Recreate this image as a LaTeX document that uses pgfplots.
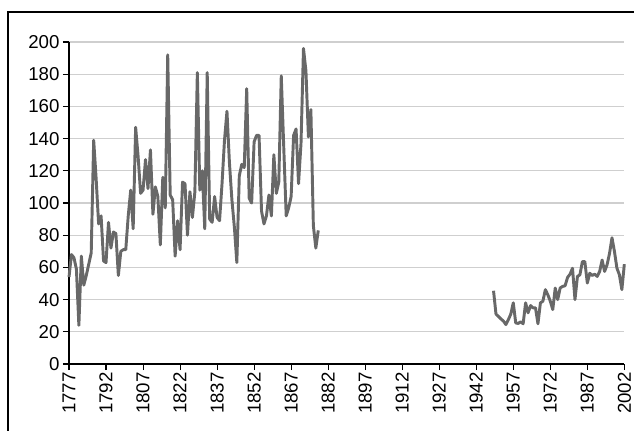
\documentclass[border=0pt]{standalone}
\usepackage{fontspec}
\setmainfont{Liberation Sans}
\usepackage{pgfplots}
\pgfplotsset{compat=1.18}
\definecolor{serie}{HTML}{686868}
\definecolor{gridc}{HTML}{CFCFCF}
\begin{document}
\begin{tikzpicture}
\useasboundingbox (-51.75pt,-49.5pt) rectangle (423.75pt,273pt);
\draw[line width=1.1pt] (-45.75pt,-60pt) -- (-45.75pt,264pt) -- (440pt,264pt);
\begin{axis}[
  at={(0pt,0pt)}, anchor=south west,
  scale only axis, width=416.5pt, height=241.5pt,
  xmin=1777, xmax=2002, ymin=0, ymax=200,
  axis lines=left, axis line style={-, line width=0.9pt, black},
  xtick={1777,1792,...,2002},
  ytick={0,20,...,200},
  ymajorgrids, grid style={gridc, line width=0.8pt},
  tick align=outside, major tick length=4.5pt,
  tick style={black, line width=0.8pt},
  /pgf/number format/assume math mode=true,
  /pgf/number format/set thousands separator={},
  tick label style={font=\fontsize{14}{16}\selectfont},
  xticklabel style={rotate=90, anchor=east, inner sep=1.5pt},
  yticklabel style={inner sep=2.5pt},
  clip=false,
]
\addplot[serie, line width=2.2pt, line join=round, no markers] coordinates {
(1777,54)(1778,68)(1779,66)(1780,59)(1781,24)(1782,67)(1783,49)(1784,55)(1785,62)(1786,69)
(1787,139)(1788,115)(1789,87)(1790,92)(1791,64)(1792,63)(1793,88)(1794,72)(1795,82)(1796,81)
(1797,55)(1798,70)(1799,71)(1800,71)(1801,92)(1802,108)(1803,84)(1804,147)(1805,129)(1806,106)
(1807,108)(1808,127)(1809,109)(1810,133)(1811,93)(1812,110)(1813,104)(1814,74)(1815,116)(1816,97)
(1817,192)(1818,105)(1819,102)(1820,67)(1821,89)(1822,71)(1823,113)(1824,112)(1825,80)(1826,107)
(1827,91)(1828,107)(1829,181)(1830,108)(1831,120)(1832,84)(1833,181)(1834,90)(1835,88)(1836,104)
(1837,91)(1838,89)(1839,112)(1840,139)(1841,157)(1842,125)(1843,102)(1844,85)(1845,63)(1846,117)
(1847,124)(1848,122)(1849,171)(1850,103)(1851,100)(1852,138)(1853,142)(1854,142)(1855,95)(1856,87)
(1857,92)(1858,105)(1859,92)(1860,130)(1861,106)(1862,113)(1863,179)(1864,135)(1865,92)(1866,97)
(1867,104)(1868,142)(1869,146)(1870,112)(1871,137)(1872,196)(1873,182)(1874,141)(1875,158)(1876,86)
(1877,72)(1878,83)
};
\addplot[serie, line width=2.2pt, line join=round, no markers] coordinates {
(1949,45.5)(1950,31)(1951,29.5)(1952,28)(1953,26.7)(1954,24.5)(1955,27.5)(1956,31)(1957,38)(1958,25.5)
(1959,25.2)(1960,26.2)(1961,25)(1962,38)(1963,31.8)(1964,36.3)(1965,34.9)(1966,34.9)(1967,25)(1968,38)
(1969,39)(1970,46.2)(1971,43)(1972,39)(1973,33.8)(1974,47.2)(1975,40)(1976,47.2)(1977,48.2)(1978,48.6)
(1979,53.8)(1980,55.8)(1981,59.5)(1982,40)(1983,54.4)(1984,55.4)(1985,63.6)(1986,63.6)(1987,50.3)(1988,56.4)
(1989,55)(1990,55.8)(1991,54.4)(1992,57.5)(1993,64.6)(1994,57.5)(1995,61.6)(1996,68.7)(1997,78.4)(1998,69.8)
(1999,59.5)(2000,55.4)(2001,46.2)(2002,62)
};
\end{axis}
\end{tikzpicture}
\end{document}
